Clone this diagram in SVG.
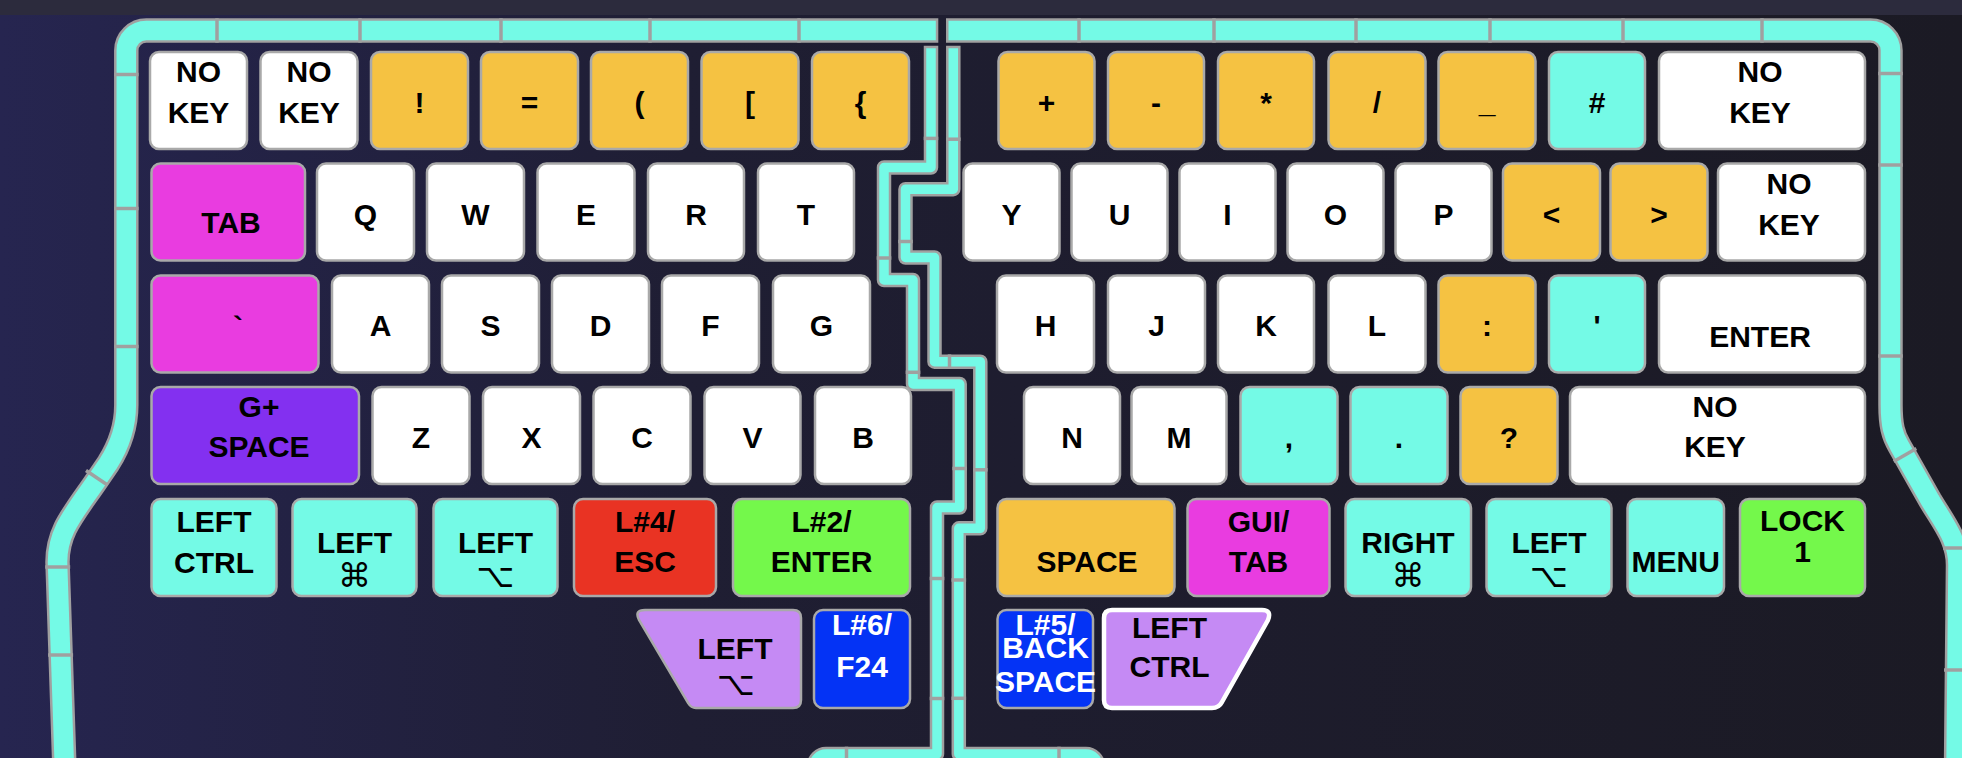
<svg xmlns="http://www.w3.org/2000/svg" width="1962" height="758" viewBox="0 0 1962 758">
<defs>
<linearGradient id="bg" x1="0" y1="0" x2="1" y2="0">
<stop offset="0" stop-color="#262550"/>
<stop offset="0.35" stop-color="#1f1e33"/>
<stop offset="1" stop-color="#1b1a24"/>
</linearGradient>
</defs>
<style>
.k{stroke:#a9a9a9;stroke-width:2.5}
.w{fill:#ffffff}.y{fill:#f5c242}.c{fill:#74fae6}.m{fill:#e93ce0}.p{fill:#8330f0}.r{fill:#e93323}.g{fill:#74f84b}.l{fill:#c58af4}.b{fill:#0433f5}
text{font-family:"Liberation Sans",Arial,sans-serif;font-weight:bold;font-size:30px;text-anchor:middle;fill:#000}
.wt{fill:#fff}
.sym{font-family:"DejaVu Sans",sans-serif;font-weight:normal;font-size:33px}
.sg{fill:none;stroke:#a0a0a0;stroke-linejoin:round}
.sc{fill:none;stroke:#74fae6;stroke-linejoin:round}
.o{stroke-width:24.5}.oc{stroke-width:19.5}
.n{stroke-width:14.5}.nc{stroke-width:9.5}
.seam{stroke:#a0a0a0;stroke-width:3.5}
</style>
<rect x="0" y="0" width="1962" height="758" fill="url(#bg)"/>
<rect x="0" y="0" width="1962" height="15" fill="#2c2b3d"/>

<g id="outline">
<path class="sg o" d="M 938.3,30.5 H 146.3 A 20 20 0 0 0 126.3,50.5 V 405 C 126.3,425 120,445 108.4,463.3 L 94.7,483.3 C 72,516 57.5,532 57.5,562 L 64.5,770"/>
<path class="sc oc" d="M 935.8,30.5 H 146.3 A 20 20 0 0 0 126.3,50.5 V 405 C 126.3,425 120,445 108.4,463.3 L 94.7,483.3 C 72,516 57.5,532 57.5,562 L 64.5,770"/>
<path class="sg o" d="M 946,30.5 H 1870.5 A 20 20 0 0 1 1890.5,50.5 V 405 C 1890.5,425 1893,435 1899.5,446 L 1930,500 C 1945,525 1958,540 1958,565 L 1956,770"/>
<path class="sc oc" d="M 948.5,30.5 H 1870.5 A 20 20 0 0 1 1890.5,50.5 V 405 C 1890.5,425 1893,435 1899.5,446 L 1930,500 C 1945,525 1958,540 1958,565 L 1956,770"/>
<path class="sg n" d="M 931,45.7 V 167.5 H 884 V 280 H 913 V 384 H 959.7 V 507.5 H 937 V 754 H 826 A 12 12 0 0 0 814,766 V 790"/>
<path class="sc nc" d="M 931,48.2 V 167.5 H 884 V 280 H 913 V 384 H 959.7 V 507.5 H 937 V 754 H 826 A 12 12 0 0 0 814,766 V 790"/>
<path class="sg n" d="M 953.3,45.7 V 189.2 H 905.5 V 257.5 H 934.5 V 361.7 H 980.3 V 528.3 H 958.8 V 754 H 1086 A 12 12 0 0 1 1098,766 V 790"/>
<path class="sc nc" d="M 953.3,48.2 V 189.2 H 905.5 V 257.5 H 934.5 V 361.7 H 980.3 V 528.3 H 958.8 V 754 H 1086 A 12 12 0 0 1 1098,766 V 790"/>
<g class="seam">
<line x1="217" y1="18.3" x2="217" y2="42.7"/><line x1="360" y1="18.3" x2="360" y2="42.7"/><line x1="501" y1="18.3" x2="501" y2="42.7"/><line x1="650" y1="18.3" x2="650" y2="42.7"/><line x1="799" y1="18.3" x2="799" y2="42.7"/>
<line x1="114" y1="74.5" x2="138.6" y2="74.5"/><line x1="114" y1="208.5" x2="138.6" y2="208.5"/><line x1="114" y1="346.5" x2="138.6" y2="346.5"/>
<line x1="86" y1="470.5" x2="107.5" y2="485"/><line x1="45.2" y1="567" x2="70.2" y2="567"/><line x1="48.1" y1="655" x2="73.1" y2="655"/>
<line x1="1079" y1="18.3" x2="1079" y2="42.7"/><line x1="1214" y1="18.3" x2="1214" y2="42.7"/><line x1="1356" y1="18.3" x2="1356" y2="42.7"/><line x1="1490" y1="18.3" x2="1490" y2="42.7"/><line x1="1623" y1="18.3" x2="1623" y2="42.7"/><line x1="1762" y1="18.3" x2="1762" y2="42.7"/>
<line x1="1878.2" y1="73.5" x2="1902.8" y2="73.5"/><line x1="1878.2" y1="165" x2="1902.8" y2="165"/><line x1="1878.2" y1="356" x2="1902.8" y2="356"/>
<line x1="1893.7" y1="461.4" x2="1916.3" y2="448.6"/><line x1="1943" y1="548" x2="1968" y2="548"/><line x1="1944" y1="670" x2="1970" y2="670"/>
<line x1="923.7" y1="138.4" x2="938.3" y2="138.4"/><line x1="876.7" y1="258" x2="891.3" y2="258"/><line x1="905.7" y1="372.3" x2="920.3" y2="372.3"/><line x1="952.4" y1="468.5" x2="967" y2="468.5"/><line x1="929.7" y1="578.5" x2="944.3" y2="578.5"/><line x1="929.7" y1="698.5" x2="944.3" y2="698.5"/><line x1="846.5" y1="746.7" x2="846.5" y2="761.3"/>
<line x1="946" y1="139.2" x2="960.6" y2="139.2"/><line x1="898.2" y1="241.5" x2="912.8" y2="241.5"/><line x1="949.5" y1="354.4" x2="949.5" y2="369"/><line x1="973" y1="469.8" x2="987.6" y2="469.8"/><line x1="951.5" y1="580" x2="966.1" y2="580"/><line x1="951.5" y1="698.3" x2="966.1" y2="698.3"/><line x1="1059" y1="746.7" x2="1059" y2="761.3"/>
</g>
</g>

<!-- Row 1 -->
<g id="k-r1-nokey1"><rect class="k w" x="150" y="52" width="97" height="97" rx="9"/><text x="198.5" y="82">NO<tspan x="198.5" y="123">KEY</tspan></text></g>
<g id="k-r1-nokey2"><rect class="k w" x="260.5" y="52" width="97" height="97" rx="9"/><text x="309" y="82">NO<tspan x="309" y="123">KEY</tspan></text></g>
<g id="k-excl"><rect class="k y" x="371" y="52" width="97" height="97" rx="9"/><text x="419.5" y="113">!</text></g>
<g id="k-eq"><rect class="k y" x="481" y="52" width="97" height="97" rx="9"/><text x="529.5" y="113">=</text></g>
<g id="k-lparen"><rect class="k y" x="591" y="52" width="97" height="97" rx="9"/><text x="639.5" y="113">(</text></g>
<g id="k-lbrack"><rect class="k y" x="701.5" y="52" width="97" height="97" rx="9"/><text x="750" y="113">[</text></g>
<g id="k-lbrace"><rect class="k y" x="812" y="52" width="97" height="97" rx="9"/><text x="860.5" y="113">{</text></g>
<g id="k-plus"><rect class="k y" x="998.5" y="52" width="96" height="97" rx="9"/><text x="1046.5" y="113">+</text></g>
<g id="k-minus"><rect class="k y" x="1108" y="52" width="96" height="97" rx="9"/><text x="1156" y="113">-</text></g>
<g id="k-star"><rect class="k y" x="1218" y="52" width="96" height="97" rx="9"/><text x="1266" y="113">*</text></g>
<g id="k-slash"><rect class="k y" x="1328.5" y="52" width="97" height="97" rx="9"/><text x="1377" y="113">/</text></g>
<g id="k-under"><rect class="k y" x="1438.5" y="52" width="97" height="97" rx="9"/><text x="1487" y="113">_</text></g>
<g id="k-hash"><rect class="k c" x="1549" y="52" width="96" height="97" rx="9"/><text x="1597" y="113">#</text></g>
<g id="k-r1-nokey3"><rect class="k w" x="1659" y="52" width="206" height="97" rx="9"/><text x="1760" y="82">NO<tspan x="1760" y="123">KEY</tspan></text></g>

<!-- Row 2 -->
<g id="k-tab"><rect class="k m" x="151.5" y="163.5" width="153.5" height="97" rx="9"/><text x="231" y="233">TAB</text></g>
<g id="k-q"><rect class="k w" x="317" y="163.5" width="97" height="97" rx="9"/><text x="365.5" y="225">Q</text></g>
<g id="k-w"><rect class="k w" x="427" y="163.5" width="97" height="97" rx="9"/><text x="475.5" y="225">W</text></g>
<g id="k-e"><rect class="k w" x="537.5" y="163.5" width="97" height="97" rx="9"/><text x="586" y="225">E</text></g>
<g id="k-r"><rect class="k w" x="648" y="163.5" width="96" height="97" rx="9"/><text x="696" y="225">R</text></g>
<g id="k-t"><rect class="k w" x="758" y="163.5" width="96" height="97" rx="9"/><text x="806" y="225">T</text></g>
<g id="k-y"><rect class="k w" x="963.5" y="163.5" width="96" height="97" rx="9"/><text x="1011.5" y="225">Y</text></g>
<g id="k-u"><rect class="k w" x="1071.5" y="163.5" width="96" height="97" rx="9"/><text x="1119.5" y="225">U</text></g>
<g id="k-i"><rect class="k w" x="1179.5" y="163.5" width="96" height="97" rx="9"/><text x="1227.5" y="225">I</text></g>
<g id="k-o"><rect class="k w" x="1287.5" y="163.5" width="96" height="97" rx="9"/><text x="1335.5" y="225">O</text></g>
<g id="k-p"><rect class="k w" x="1395.5" y="163.5" width="96" height="97" rx="9"/><text x="1443.5" y="225">P</text></g>
<g id="k-lt"><rect class="k y" x="1503" y="163.5" width="97" height="97" rx="9"/><text x="1551.5" y="225">&lt;</text></g>
<g id="k-gt"><rect class="k y" x="1610.5" y="163.5" width="97" height="97" rx="9"/><text x="1659" y="225">&gt;</text></g>
<g id="k-r2-nokey"><rect class="k w" x="1718" y="163.5" width="147" height="97" rx="9"/><text x="1789" y="193.5">NO<tspan x="1789" y="235">KEY</tspan></text></g>

<!-- Row 3 -->
<g id="k-grave"><rect class="k m" x="151.5" y="275.5" width="167" height="97" rx="9"/><text x="238" y="337">`</text></g>
<g id="k-a"><rect class="k w" x="332" y="275.5" width="97" height="97" rx="9"/><text x="380.5" y="336">A</text></g>
<g id="k-s"><rect class="k w" x="442" y="275.5" width="97" height="97" rx="9"/><text x="490.5" y="336">S</text></g>
<g id="k-d"><rect class="k w" x="552" y="275.5" width="97" height="97" rx="9"/><text x="600.5" y="336">D</text></g>
<g id="k-f"><rect class="k w" x="662" y="275.5" width="97" height="97" rx="9"/><text x="710.5" y="336">F</text></g>
<g id="k-g"><rect class="k w" x="773" y="275.5" width="97" height="97" rx="9"/><text x="821.5" y="336">G</text></g>
<g id="k-h"><rect class="k w" x="997" y="275.5" width="97" height="97" rx="9"/><text x="1045.5" y="336">H</text></g>
<g id="k-j"><rect class="k w" x="1108" y="275.5" width="97" height="97" rx="9"/><text x="1156.5" y="336">J</text></g>
<g id="k-k"><rect class="k w" x="1218" y="275.5" width="96" height="97" rx="9"/><text x="1266" y="336">K</text></g>
<g id="k-l"><rect class="k w" x="1328.5" y="275.5" width="97" height="97" rx="9"/><text x="1377" y="336">L</text></g>
<g id="k-colon"><rect class="k y" x="1438.5" y="275.5" width="97" height="97" rx="9"/><text x="1487" y="336">:</text></g>
<g id="k-quote"><rect class="k c" x="1549" y="275.5" width="96" height="97" rx="9"/><text x="1597" y="336">'</text></g>
<g id="k-enter"><rect class="k w" x="1659" y="275.5" width="206" height="97" rx="9"/><text x="1760" y="347">ENTER</text></g>

<!-- Row 4 -->
<g id="k-gspace"><rect class="k p" x="151.5" y="387" width="207.5" height="97" rx="9"/><text x="259" y="417">G+<tspan x="259" y="457">SPACE</tspan></text></g>
<g id="k-z"><rect class="k w" x="372.5" y="387" width="97" height="97" rx="9"/><text x="421" y="448">Z</text></g>
<g id="k-x"><rect class="k w" x="483" y="387" width="97" height="97" rx="9"/><text x="531.5" y="448">X</text></g>
<g id="k-c"><rect class="k w" x="593.5" y="387" width="97" height="97" rx="9"/><text x="642" y="448">C</text></g>
<g id="k-v"><rect class="k w" x="704.5" y="387" width="96" height="97" rx="9"/><text x="752.5" y="448">V</text></g>
<g id="k-b"><rect class="k w" x="815" y="387" width="96" height="97" rx="9"/><text x="863" y="448">B</text></g>
<g id="k-n"><rect class="k w" x="1024" y="387" width="96" height="97" rx="9"/><text x="1072" y="448">N</text></g>
<g id="k-m"><rect class="k w" x="1131.5" y="387" width="95" height="97" rx="9"/><text x="1179" y="448">M</text></g>
<g id="k-comma"><rect class="k c" x="1240.5" y="387" width="97" height="97" rx="9"/><text x="1289" y="448">,</text></g>
<g id="k-period"><rect class="k c" x="1350.5" y="387" width="97" height="97" rx="9"/><text x="1399" y="448">.</text></g>
<g id="k-quest"><rect class="k y" x="1460.5" y="387" width="97" height="97" rx="9"/><text x="1509" y="448">?</text></g>
<g id="k-r4-nokey"><rect class="k w" x="1570" y="387" width="295" height="97" rx="9"/><text x="1715" y="417">NO<tspan x="1715" y="457">KEY</tspan></text></g>

<!-- Row 5 -->
<g id="k-lctrl"><rect class="k c" x="151.5" y="499" width="125" height="97" rx="9"/><text x="214" y="532">LEFT<tspan x="214" y="573">CTRL</tspan></text></g>
<g id="k-lcmd"><rect class="k c" x="292.5" y="499" width="124" height="97" rx="9"/><text x="354.5" y="553">LEFT<tspan class="sym" x="354.5" y="587">⌘</tspan></text></g>
<g id="k-lopt"><rect class="k c" x="433.5" y="499" width="124" height="97" rx="9"/><text x="495.5" y="553">LEFT<tspan class="sym" x="495.5" y="587">⌥</tspan></text></g>
<g id="k-l4esc"><rect class="k r" x="574" y="499" width="142" height="97" rx="9"/><text x="645" y="532">L#4/<tspan x="645" y="572">ESC</tspan></text></g>
<g id="k-l2enter"><rect class="k g" x="733" y="499" width="177" height="97" rx="9"/><text x="821.5" y="532">L#2/<tspan x="821.5" y="572">ENTER</tspan></text></g>
<g id="k-space"><rect class="k y" x="997.5" y="499" width="177" height="97" rx="9"/><text x="1087" y="572">SPACE</text></g>
<g id="k-guitab"><rect class="k m" x="1187.5" y="499" width="142" height="97" rx="9"/><text x="1258.5" y="532">GUI/<tspan x="1258.5" y="572">TAB</tspan></text></g>
<g id="k-rcmd"><rect class="k c" x="1345.5" y="499" width="125.5" height="97" rx="9"/><text x="1408" y="553">RIGHT<tspan class="sym" x="1408" y="587">⌘</tspan></text></g>
<g id="k-lopt2"><rect class="k c" x="1486.5" y="499" width="125" height="97" rx="9"/><text x="1549" y="553">LEFT<tspan class="sym" x="1549" y="587">⌥</tspan></text></g>
<g id="k-menu"><rect class="k c" x="1627.5" y="499" width="96.5" height="97" rx="9"/><text x="1675.7" y="572">MENU</text></g>
<g id="k-lock1"><rect class="k g" x="1740" y="499" width="125" height="97" rx="9"/><text x="1802.5" y="531">LOCK<tspan x="1802.5" y="562">1</tspan></text></g>

<!-- Thumb cluster -->
<g id="k-thumb-lopt"><path class="k l" d="M 645,610 H 793 Q 801,610 801,618 V 700 Q 801,708 793,708 H 696 Q 691,708 688.5,703.5 L 639,620 Q 634,610 645,610 Z"/><text x="735" y="659">LEFT<tspan class="sym" x="736" y="695">⌥</tspan></text></g>
<g id="k-l6f24"><rect class="k b" x="814" y="610" width="96" height="98" rx="9"/><text class="wt" x="862" y="635">L#6/<tspan x="862" y="677">F24</tspan></text></g>
<g id="k-l5bksp"><rect class="k b" x="997.5" y="610" width="95.5" height="98" rx="9"/><text class="wt" x="1045.5" y="635">L#5/<tspan x="1045.5" y="658">BACK</tspan><tspan x="1045.5" y="692">SPACE</tspan></text></g>
<g id="k-thumb-lctrl"><path class="l" stroke="#ffffff" stroke-width="4.5" d="M 1112,610 H 1262 Q 1272,610 1268,620 L 1222,702 Q 1219,708 1212,708 H 1112 Q 1104,708 1104,700 V 618 Q 1104,610 1112,610 Z"/><text x="1169.5" y="638">LEFT<tspan x="1169.5" y="677">CTRL</tspan></text></g>
</svg>
